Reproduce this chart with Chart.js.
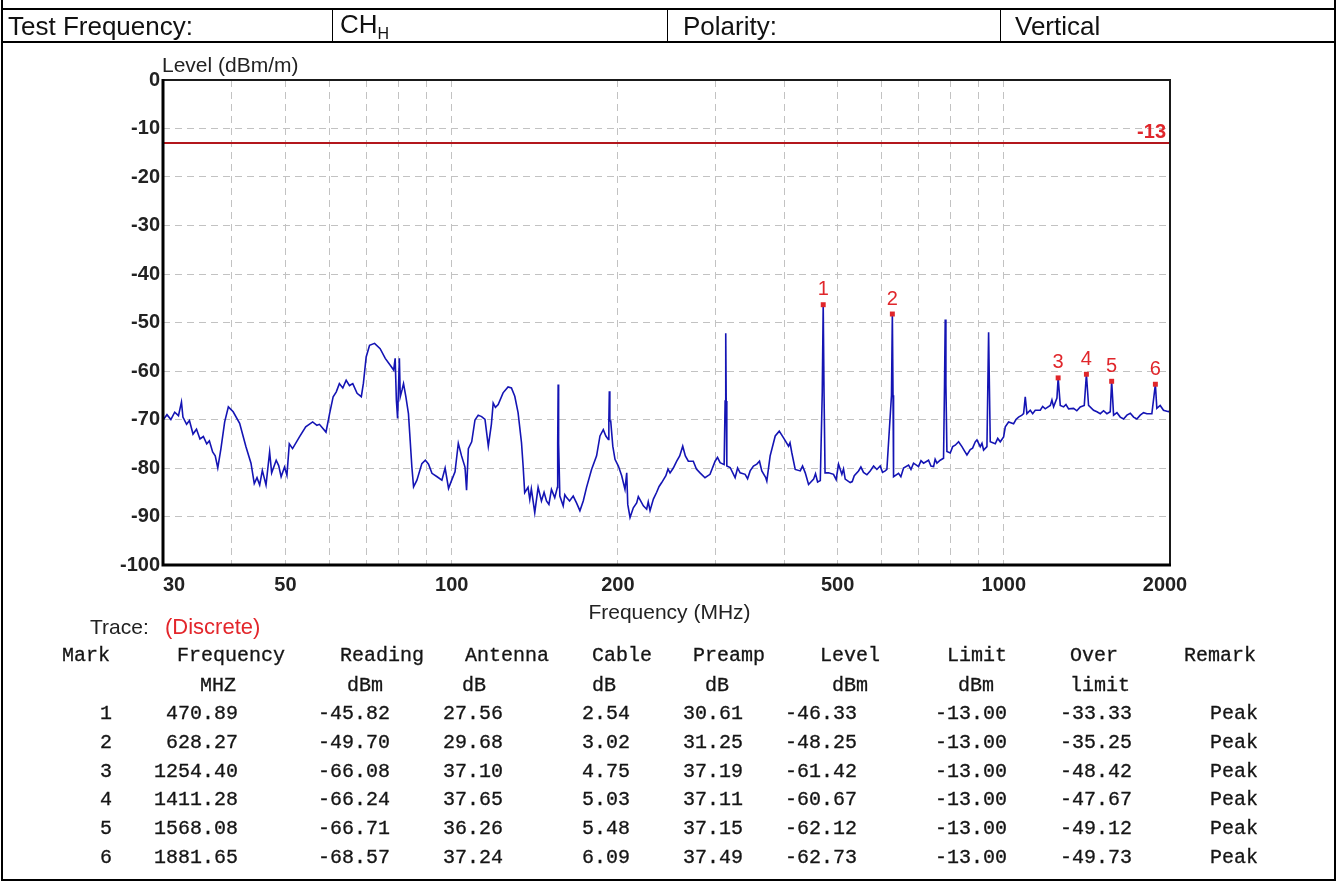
<!DOCTYPE html>
<html>
<head>
<meta charset="utf-8">
<title>Radiated Spurious Emission - CH H Vertical</title>
<script src="https://cdn.jsdelivr.net/npm/chart.js@4.4.1/dist/chart.umd.min.js"></script>
<style>
  html, body { margin: 0; padding: 0; background: #fff; }
  #page { position: relative; width: 1338px; height: 882px; overflow: hidden; font-family: "Liberation Sans", Arial, sans-serif; color: #111; }
  #plot { position: absolute; left: 0; top: 0; }
  .ln { position: absolute; background: #000; }
  .hdr { position: absolute; top: 26px; transform: translateY(-50%); font-size: 26px; white-space: nowrap; }
  .hdr sub { font-size: 16px; vertical-align: -6px; }
  .mono { position: absolute; font-family: "Liberation Mono", "Courier New", monospace; font-size: 20px; color: #151515; -webkit-text-stroke: 0.3px #151515; white-space: nowrap; transform: translateY(-50%); }
  .trace { position: absolute; top: 627px; transform: translateY(-50%); font-size: 21px; color: #222; white-space: nowrap; }
</style>
</head>
<body>
<div id="page">
  <canvas id="plot" width="1338" height="882"></canvas>

  <!-- report table frame -->
  <div class="ln" style="left:1px;top:0;width:2px;height:881px"></div>
  <div class="ln" style="left:1334px;top:0;width:2px;height:881px"></div>
  <div class="ln" style="left:1px;top:8px;width:1335px;height:2px"></div>
  <div class="ln" style="left:1px;top:41px;width:1335px;height:2px"></div>
  <div class="ln" style="left:1px;top:879px;width:1335px;height:2px"></div>
  <div class="ln" style="left:332px;top:9px;width:1px;height:33px"></div>
  <div class="ln" style="left:667px;top:9px;width:1px;height:33px"></div>
  <div class="ln" style="left:1000px;top:9px;width:1px;height:33px"></div>

  <div class="hdr" style="left:8px">Test Frequency:</div>
  <div class="hdr" style="left:340px">CH<sub>H</sub></div>
  <div class="hdr" style="left:683px">Polarity:</div>
  <div class="hdr" style="left:1015px">Vertical</div>

  <div class="trace" style="left:90px">Trace:</div>
  <div class="trace" style="left:165px;color:#e3262b;font-size:22px">(Discrete)</div>

  <div id="markTable"></div>
</div>

<script>
// ---- measurement trace (frequency in MHz, level in dBm/m), ten points per line ----
const traceFreq = [
  30.0, 30.5, 31.0, 31.5, 32.0, 32.4, 32.6, 33.1, 33.5, 34.0,
  34.5, 35.0, 35.5, 36.0, 36.4, 36.9, 37.3, 37.7, 38.2, 38.8,
  39.4, 40.2, 41.3, 42.4, 43.3, 43.9, 44.4, 44.9, 45.4, 46.1,
  46.8, 47.2, 48.1, 48.6, 49.1, 49.8, 50.3, 50.8, 51.5, 53.0,
  54.4, 56.0, 57.0, 57.6, 59.2, 60.1, 61.0, 61.8, 62.6, 63.5,
  64.4, 65.3, 66.2, 67.4, 68.6, 69.2, 70.0, 71.0, 72.5, 74.2,
  75.8, 77.4, 78.5, 79.0, 79.4, 79.8, 80.4, 80.7, 81.3, 81.8,
  82.6, 83.5, 84.1, 84.7, 85.3, 86.5, 88.3, 89.6, 90.8, 92.1,
  94.1, 96.0, 97.3, 98.7, 100.0, 101.4, 102.8, 104.2, 105.7, 106.4,
  107.2, 108.7, 110.2, 111.7, 113.3, 114.9, 116.5, 118.0, 118.9, 120.0,
  121.4, 123.9, 126.5, 128.3, 130.1, 131.9, 133.8, 134.7, 135.6, 137.5,
  138.5, 139.4, 141.4, 143.4, 145.4, 147.0, 148.5, 150.0, 151.6, 153.7,
  155.4, 155.6, 155.9, 156.2, 157.0, 159.2, 160.3, 161.5, 163.5, 166.0,
  168.3, 170.7, 173.1, 175.5, 179.2, 183.0, 185.6, 188.2, 190.2, 192.2,
  192.6, 193.0, 193.4, 194.1, 195.8, 197.6, 200.4, 203.2, 206.0, 207.5,
  208.4, 210.4, 213.3, 216.3, 217.8, 219.3, 222.4, 225.5, 227.0, 228.7,
  231.9, 235.1, 237.5, 240.1, 244.3, 246.5, 248.6, 252.0, 255.6, 258.8,
  262.1, 265.0, 268.3, 273.9, 277.5, 281.7, 287.6, 293.7, 300.0, 303.0,
  306.3, 311.5, 312.8, 313.6, 314.2, 315.0, 319.4, 326.1, 329.5, 333.0,
  340.0, 343.5, 347.2, 352.0, 357.0, 361.0, 364.5, 370.5, 372.2, 377.4,
  385.5, 392.0, 399.1, 407.5, 410.0, 413.0, 419.0, 427.9, 432.0, 436.9,
  443.0, 452.4, 456.0, 460.0, 465.2, 469.0, 470.89, 472.5, 474.5, 481.5,
  491.6, 497.0, 501.9, 509.0, 512.5, 516.1, 527.0, 531.5, 536.0, 545.6,
  551.0, 557.1, 565.0, 572.8, 581.0, 589.0, 597.2, 603.0, 609.8, 614.1,
  626.0, 628.27, 630.0, 631.4, 644.7, 651.0, 658.3, 672.2, 679.0, 686.3,
  700.8, 708.0, 715.6, 730.6, 738.0, 746.1, 751.0, 756.6, 767.1, 777.8,
  781.0, 783.3, 785.5, 788.8, 799.8, 808.0, 816.7, 828.1, 839.8, 848.0,
  857.5, 869.5, 878.0, 887.8, 894.0, 906.5, 913.0, 919.2, 932.1, 935.5,
  938.6, 941.8, 945.1, 965.0, 975.0, 985.4, 999.2, 1006.2, 1020.2, 1041.7,
  1052.0, 1063.6, 1078.6, 1086.1, 1093.6, 1101.2, 1116.7, 1128.0, 1140.1, 1164.2,
  1176.0, 1188.7, 1213.8, 1222.3, 1230.8, 1248.1, 1254.4, 1265.6, 1283.3, 1296.0,
  1310.3, 1337.9, 1356.0, 1375.6, 1398.7, 1411.28, 1424.1, 1454.1, 1474.6, 1495.3,
  1516.0, 1537.3, 1558.9, 1568.08, 1580.7, 1603.0, 1625.4, 1648.0, 1671.2, 1695.0,
  1718.2, 1742.0, 1766.5, 1791.0, 1816.2, 1854.3, 1881.65, 1893.2, 1919.8, 1946.5,
  1987.6, 2000.0
];
const traceLevel = [
  -70.1, -69.0, -70.0, -68.5, -69.2, -66.4, -69.5, -71.0, -70.2, -73.0,
  -72.0, -74.0, -73.5, -75.0, -74.4, -76.7, -77.5, -80.0, -76.0, -70.5,
  -67.4, -68.4, -70.8, -75.6, -79.0, -83.2, -82.0, -83.5, -80.5, -83.5,
  -76.7, -81.0, -78.4, -79.5, -81.8, -79.8, -81.5, -75.0, -76.0, -73.6,
  -71.5, -70.5, -71.2, -71.0, -72.6, -68.8, -65.3, -64.3, -62.6, -63.5,
  -61.9, -63.0, -62.6, -64.6, -65.3, -62.5, -57.1, -54.7, -54.3, -55.4,
  -57.4, -58.8, -59.8, -57.4, -66.0, -69.8, -57.4, -65.3, -63.9, -62.6,
  -65.3, -68.8, -74.3, -79.8, -83.9, -82.5, -79.1, -78.4, -79.2, -81.1,
  -81.8, -82.5, -80.0, -84.2, -82.5, -80.8, -74.9, -77.5, -79.8, -84.6,
  -76.0, -74.6, -70.1, -69.1, -69.4, -70.0, -75.5, -71.0, -66.6, -67.5,
  -66.9, -64.5, -63.3, -63.5, -65.2, -68.6, -74.8, -79.6, -85.1, -84.0,
  -86.5, -84.3, -89.2, -84.0, -86.8, -85.0, -86.8, -87.5, -84.4, -86.1,
  -84.0, -75.1, -62.8, -75.0, -85.8, -87.8, -85.5, -86.1, -86.8, -85.8,
  -87.2, -88.8, -86.8, -84.0, -80.3, -77.5, -73.4, -72.1, -73.4, -74.1,
  -70.3, -64.2, -70.3, -70.3, -75.5, -78.2, -79.6, -81.6, -84.4, -81.0,
  -87.5, -90.2, -88.2, -87.2, -85.9, -86.5, -87.8, -88.5, -87.0, -88.8,
  -86.4, -85.0, -83.8, -83.0, -81.6, -80.2, -81.0, -80.0, -78.6, -77.5,
  -75.5, -77.5, -78.6, -78.6, -80.2, -81.0, -82.0, -81.3, -78.6, -77.8,
  -78.9, -79.3, -66.2, -52.2, -66.2, -79.6, -79.9, -82.0, -80.0, -81.0,
  -81.3, -82.2, -80.6, -79.6, -79.2, -78.6, -80.6, -82.0, -82.7, -77.5,
  -73.4, -72.4, -73.8, -75.5, -74.8, -76.8, -80.3, -80.6, -79.6, -81.0,
  -83.4, -82.3, -81.2, -82.9, -82.6, -64.5, -46.33, -64.5, -81.0, -81.0,
  -81.3, -82.4, -79.2, -81.3, -80.2, -82.3, -83.0, -82.8, -81.6, -80.6,
  -79.8, -80.9, -81.4, -80.6, -79.6, -80.3, -79.6, -80.9, -80.6, -80.3,
  -65.0, -48.25, -65.0, -81.8, -81.1, -81.8, -80.0, -79.4, -80.3, -79.0,
  -79.7, -78.5, -79.0, -78.4, -79.6, -79.7, -78.2, -79.0, -78.4, -78.0,
  -62.8, -49.4, -62.8, -76.6, -76.9, -75.6, -75.3, -74.6, -75.6, -76.4,
  -77.3, -76.2, -75.9, -74.6, -74.2, -75.6, -74.9, -76.3, -75.6, -63.4,
  -52.0, -63.4, -74.6, -75.0, -73.9, -74.6, -73.6, -71.5, -70.5, -70.9,
  -70.0, -69.5, -69.1, -68.8, -65.3, -68.8, -68.1, -68.8, -68.1, -68.1,
  -67.3, -67.8, -67.1, -66.0, -67.4, -65.6, -61.42, -67.1, -67.4, -66.9,
  -67.8, -67.7, -68.2, -67.4, -67.1, -60.67, -67.1, -68.1, -68.4, -68.8,
  -68.2, -68.8, -68.4, -62.12, -69.1, -68.6, -69.5, -69.9, -69.1, -68.7,
  -69.5, -69.9, -69.1, -68.6, -68.8, -68.8, -62.73, -67.7, -67.1, -68.1,
  -68.4, -68.2
];

// ---- limit ----
const LIMIT = -13;

// ---- axes ----
const xMin = 30, xMax = 2000;
const yMin = -100, yMax = 0, yStep = 10;
const xGridValues = [40, 50, 60, 70, 80, 90, 100, 200, 300, 400, 500, 600, 700, 800, 900, 1000];
const xTickLabels = [30, 50, 100, 200, 500, 1000, 2000];

// ---- marker table ----
const markNo      = [1, 2, 3, 4, 5, 6];
const markFreq    = [470.89, 628.27, 1254.40, 1411.28, 1568.08, 1881.65];
const markReading = [-45.82, -49.70, -66.08, -66.24, -66.71, -68.57];
const markAntenna = [27.56, 29.68, 37.10, 37.65, 36.26, 37.24];
const markCable   = [2.54, 3.02, 4.75, 5.03, 5.48, 6.09];
const markPreamp  = [30.61, 31.25, 37.19, 37.11, 37.15, 37.49];
const markLevel   = [-46.33, -48.25, -61.42, -60.67, -62.12, -62.73];
const markLimit   = [-13.00, -13.00, -13.00, -13.00, -13.00, -13.00];
const markOver    = [-33.33, -35.25, -48.42, -47.67, -49.12, -49.73];
const markRemark  = ['Peak', 'Peak', 'Peak', 'Peak', 'Peak', 'Peak'];

const FONT = '"Liberation Sans", Arial, sans-serif';
const TEXT = '#222';
const RED = '#e0262b';

// frame, titles, x labels, marker numbers and limit label
const decorations = {
  id: 'decorations',
  afterDraw(chart) {
    const { ctx, chartArea: a, scales } = chart;
    const xs = scales.x, ys = scales.y;
    ctx.save();

    // plot frame
    ctx.strokeStyle = '#1a1a1a';
    ctx.lineWidth = 2;
    ctx.strokeRect(a.left, a.top, a.right - a.left, a.bottom - a.top);
    ctx.strokeStyle = '#000';
    ctx.lineWidth = 3;
    ctx.beginPath();
    ctx.moveTo(a.left, a.top - 1);
    ctx.lineTo(a.left, a.bottom);
    ctx.lineTo(a.right + 1, a.bottom);
    ctx.stroke();

    // frequency labels
    ctx.fillStyle = TEXT;
    ctx.font = 'bold 20px ' + FONT;
    ctx.textBaseline = 'middle';
    xTickLabels.forEach((v, i) => {
      const px = xs.getPixelForValue(v);
      ctx.textAlign = i === 0 ? 'left' : 'center';
      ctx.fillText(String(v), i === 0 ? px : px - (i === xTickLabels.length - 1 ? 5 : 0), a.bottom + 20);
    });

    // axis titles
    ctx.font = '21px ' + FONT;
    ctx.textAlign = 'left';
    ctx.fillText('Level (dBm/m)', a.left - 1, a.top - 14);
    ctx.textAlign = 'center';
    ctx.fillText('Frequency (MHz)', (a.left + a.right) / 2 + 3, a.bottom + 48);

    // limit label
    ctx.fillStyle = RED;
    ctx.font = 'bold 20px ' + FONT;
    ctx.textAlign = 'right';
    ctx.fillText(String(LIMIT), a.right - 4, ys.getPixelForValue(LIMIT) - 11);

    // marker numbers
    ctx.font = '20px ' + FONT;
    ctx.textAlign = 'center';
    markNo.forEach((n, i) => {
      ctx.fillText(String(n), xs.getPixelForValue(markFreq[i]), ys.getPixelForValue(markLevel[i]) - 15);
    });
    ctx.restore();
  }
};

new Chart(document.getElementById('plot'), {
  type: 'line',
  data: {
    datasets: [
      {
        label: 'Level',
        data: traceFreq.map((f, i) => ({ x: f, y: traceLevel[i] })),
        borderColor: '#1414b4',
        borderWidth: 1.6,
        pointRadius: 0,
        tension: 0,
        order: 2
      },
      {
        label: 'Limit',
        data: [{ x: xMin, y: LIMIT }, { x: xMax, y: LIMIT }],
        borderColor: '#b3161c',
        borderWidth: 2,
        pointRadius: 0,
        order: 3
      },
      {
        label: 'Marks',
        data: markFreq.map((f, i) => ({ x: f, y: markLevel[i] })),
        showLine: false,
        pointStyle: 'rect',
        pointRadius: 3.5,
        backgroundColor: RED,
        borderColor: RED,
        borderWidth: 0,
        order: 1
      }
    ]
  },
  options: {
    responsive: false,
    animation: false,
    layout: { padding: { left: 0, top: 80, right: 168, bottom: 0 } },
    plugins: { legend: { display: false }, tooltip: { enabled: false } },
    scales: {
      x: {
        type: 'logarithmic',
        min: xMin,
        max: xMax,
        afterBuildTicks: s => { s.ticks = xGridValues.map(v => ({ value: v })); },
        afterFit: s => { s.height = 882 - 565; },
        ticks: { display: false },
        grid: { color: '#c2c2c2', lineWidth: 1, drawTicks: false },
        border: { display: false, dash: [7, 5] }
      },
      y: {
        min: yMin,
        max: yMax,
        afterFit: s => { s.width = 163; },
        ticks: {
          stepSize: yStep,
          padding: 3,
          color: TEXT,
          font: { family: FONT, size: 20, weight: 'bold' }
        },
        grid: { color: '#c2c2c2', lineWidth: 1, drawTicks: false },
        border: { display: false, dash: [7, 5] }
      }
    }
  },
  plugins: [decorations]
});

// marker table, monospace columns
(function buildTable() {
  const host = document.getElementById('markTable');
  const add = (text, x, y, right) => {
    const d = document.createElement('div');
    d.className = 'mono';
    d.textContent = text;
    d.style.top = y + 'px';
    if (right) { d.style.right = (1338 - x) + 'px'; d.style.textAlign = 'right'; }
    else d.style.left = x + 'px';
    host.appendChild(d);
  };
  const heads = [['Mark', 62], ['Frequency', 177], ['Reading', 340], ['Antenna', 465], ['Cable', 592],
                 ['Preamp', 693], ['Level', 820], ['Limit', 947], ['Over', 1070], ['Remark', 1184]];
  heads.forEach(([t, x]) => add(t, x, 655, false));
  const units = [['MHZ', 200], ['dBm', 347], ['dB', 462], ['dB', 592], ['dB', 705], ['dBm', 832], ['dBm', 958], ['limit', 1070]];
  units.forEach(([t, x]) => add(t, x, 685, false));

  const rowY = [713, 742, 771, 799, 828, 857];
  const cols = [
    [markNo.map(String), 112],
    [markFreq.map(v => v.toFixed(2)), 238],
    [markReading.map(v => v.toFixed(2)), 390],
    [markAntenna.map(v => v.toFixed(2)), 503],
    [markCable.map(v => v.toFixed(2)), 630],
    [markPreamp.map(v => v.toFixed(2)), 743],
    [markLevel.map(v => v.toFixed(2)), 857],
    [markLimit.map(v => v.toFixed(2)), 1007],
    [markOver.map(v => v.toFixed(2)), 1132],
    [markRemark, 1258]
  ];
  cols.forEach(([vals, right]) => vals.forEach((t, i) => add(t, right, rowY[i], true)));
})();
</script>
</body>
</html>
